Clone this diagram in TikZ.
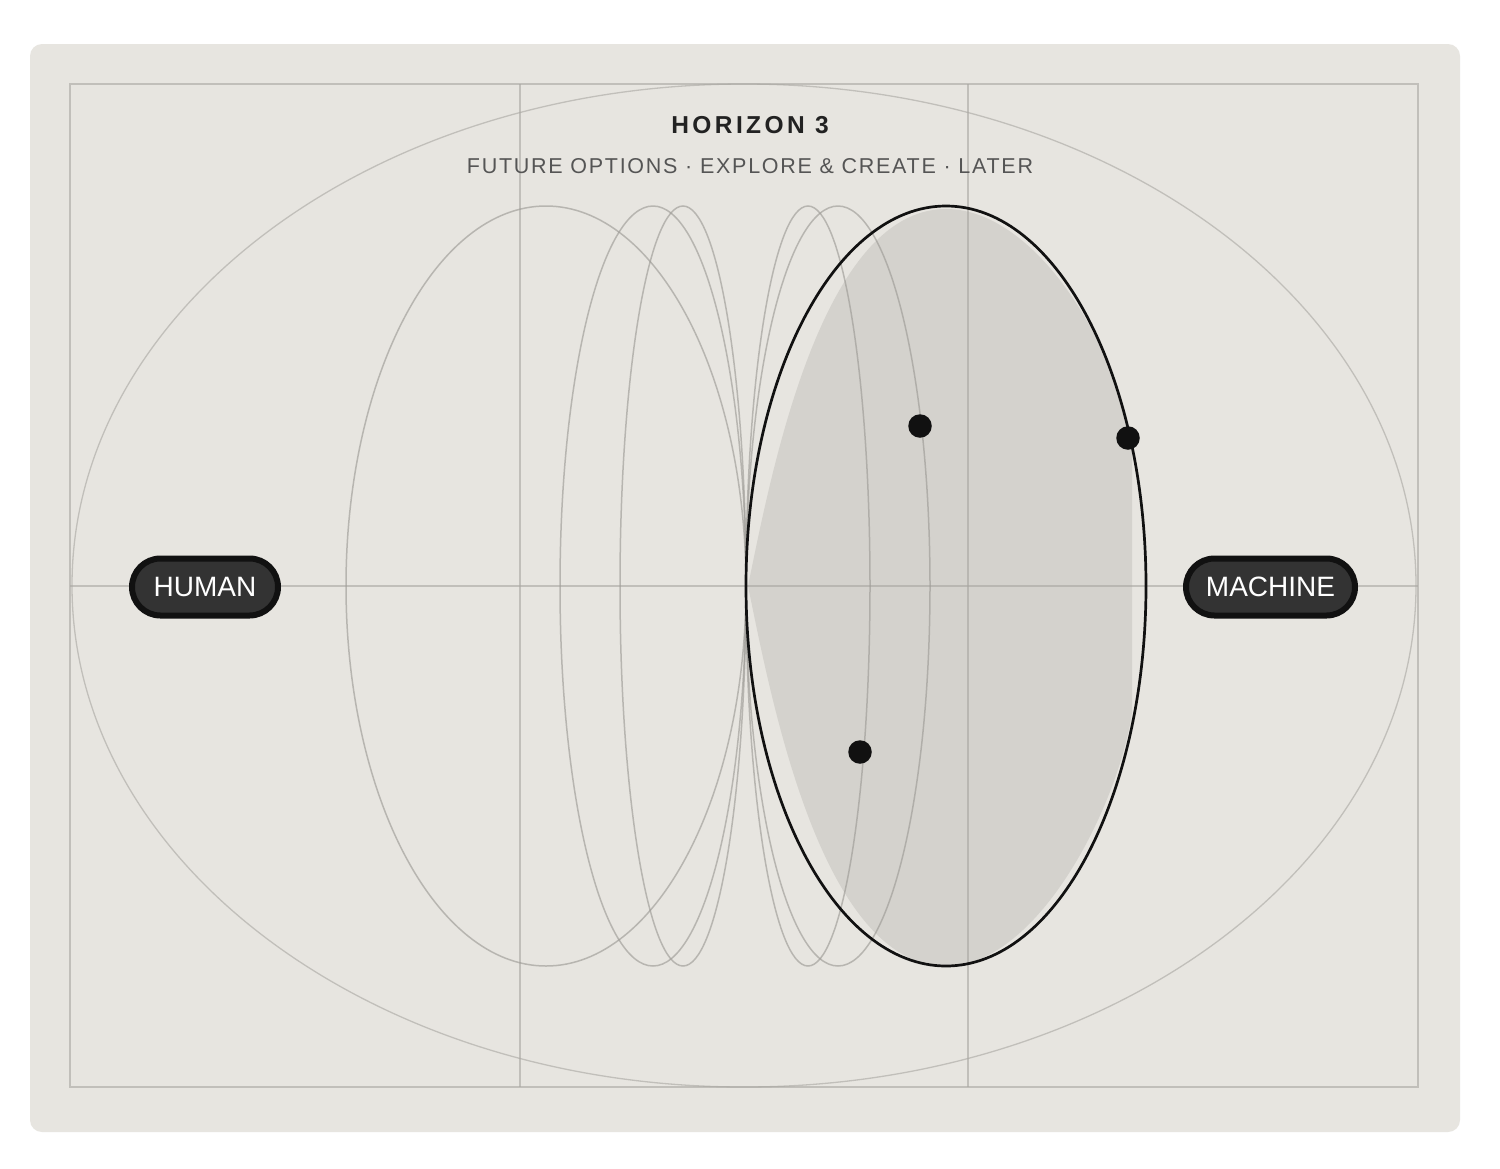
\documentclass[tikz,border=0pt]{standalone}
\usepackage{fontspec}
\setmainfont{Liberation Sans}
\usetikzlibrary{shapes.misc}
\definecolor{panel}{HTML}{E7E5E0}
\definecolor{gridc}{HTML}{A8A6A1}
\definecolor{lensc}{HTML}{D4D2CD}
\definecolor{ringc}{HTML}{9E9C97}
\definecolor{ink}{HTML}{111111}
\definecolor{pillc}{HTML}{333333}
\definecolor{titlec}{HTML}{222222}
\definecolor{subc}{HTML}{555555}
\tikzset{
  gridline/.style={draw=gridc, draw opacity=0.6, line width=1.3pt},
  ring/.style={draw=ringc, draw opacity=0.65, line width=1.5pt},
  mainring/.style={draw=ink, line width=2.7pt},
  pill/.style={rounded rectangle, draw=ink, fill=pillc, line width=6pt, text=white,
    minimum height=57pt, inner sep=0pt, font=\fontsize{28}{28}\selectfont},
  dot/.style={circle, fill=ink, minimum size=23.5pt, inner sep=0pt}
}
\begin{document}
\begin{tikzpicture}[x=1pt,y=-1pt]
\useasboundingbox (0,0) rectangle (1500,1168);
\fill[white] (0,0) rectangle (1500,1168);
\fill[panel, rounded corners=12pt] (30,44) rectangle (1460,1132);
% lens fill
\fill[lensc] (748,586) .. controls (770,480) and (820,209) .. (946,209)
  .. controls (1030,209) and (1110,330) .. (1132,440) -- (1132,712)
  .. controls (1120,800) and (1040,966) .. (946,966)
  .. controls (820,966) and (770,692) .. (748,586) -- cycle;
% grid
\draw[gridline] (70,84) rectangle (1418,1087);
\draw[gridline] (520,84) -- (520,1087);
\draw[gridline] (968,84) -- (968,1087);
\draw[gridline] (70,586) -- (1418,586);
\draw[gridline] (744,585.5) ellipse [x radius=672pt, y radius=501.5pt];
% rings
\draw[ring] (546,586) ellipse [x radius=200pt, y radius=380pt];
\draw[ring] (653,586) ellipse [x radius=93pt, y radius=380pt];
\draw[ring] (683,586) ellipse [x radius=63pt, y radius=380pt];
\draw[ring] (808,586) ellipse [x radius=62pt, y radius=380pt];
\draw[ring] (838,586) ellipse [x radius=92pt, y radius=380pt];
\draw[mainring] (946,586) ellipse [x radius=200pt, y radius=380pt];
% dots
\node[dot] (d1) at (920,426) {};
\node[dot] (d2) at (1128,438) {};
\node[dot] (d3) at (860,752) {};
% pills
\node[pill, minimum width=146pt] (human) at (205,587) {HUMAN};
\node[pill, minimum width=169pt] (machine) at (1270.5,587) {MACHINE};
% titles
\node[text=titlec, font=\fontsize{24.5}{25}\selectfont\bfseries\addfontfeature{LetterSpace=14}] (title) at (750,125) {HORIZON 3};
\node[text=subc, font=\fontsize{21.5}{22}\selectfont\addfontfeature{LetterSpace=8}] (sub) at (750,166) {FUTURE OPTIONS · EXPLORE \& CREATE · LATER};
\end{tikzpicture}
\end{document}
